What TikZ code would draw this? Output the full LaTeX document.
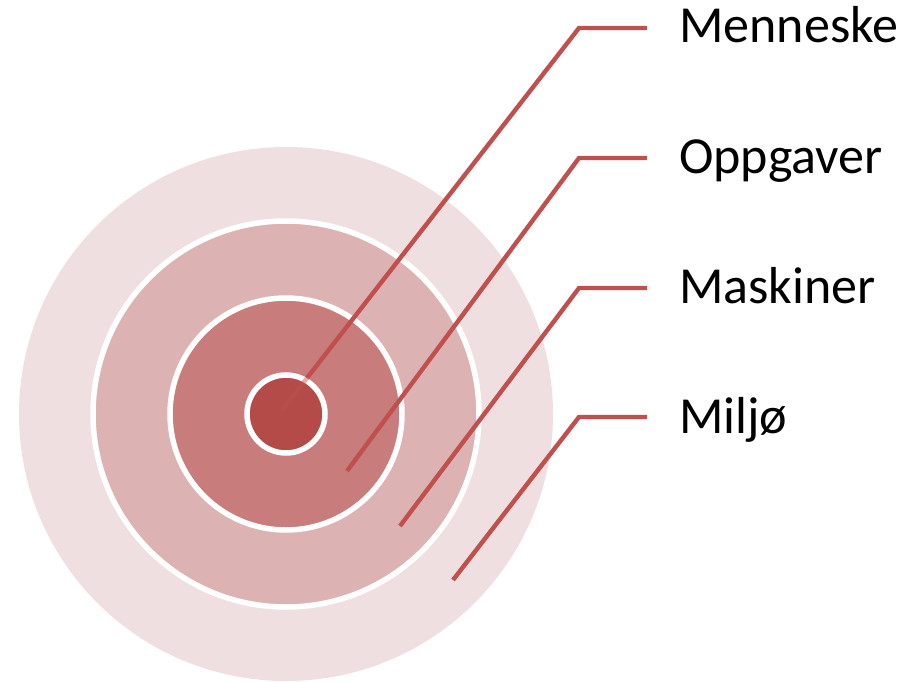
\documentclass[tikz,border=0pt]{standalone}
\usepackage{fontspec}
\setmainfont{Carlito}
\definecolor{ringA}{HTML}{F0DFE0}
\definecolor{ringB}{HTML}{DCB2B3}
\definecolor{ringC}{HTML}{C87C7B}
\definecolor{ringD}{HTML}{B54B48}
\definecolor{leader}{HTML}{C0504D}
\begin{document}
\begin{tikzpicture}[x=1pt,y=-1pt,
  ring/.style={draw=white,line width=5.5pt},
  lead/.style={draw=leader,line width=4.4pt},
  lbl/.style={anchor=base west,inner sep=0pt,font=\fontsize{52}{60}\selectfont}]
\useasboundingbox (0,0) rectangle (918,682);
\fill[ringA] (286,414) circle (267);
\filldraw[ring,fill=ringB] (286,414) circle (193);
\filldraw[ring,fill=ringC] (286,414) circle (116);
\filldraw[ring,fill=ringD] (286,414) circle (39);
% labels
\node[lbl] (l1) at (679,43) {Menneske};
\node[lbl] (l2) at (679,173) {Oppgaver};
\node[lbl] (l3) at (679,303) {Maskiner};
\node[lbl] (l4) at (679,433) {Miljø};
% leader coordinates
\coordinate (s1) at (282,410);
\coordinate (m1) at (307,378);
\coordinate (c1) at (579,28);
\coordinate (e1) at (647,28);
\coordinate (s2) at (347,471);
\coordinate (c2) at (579,158);
\coordinate (e2) at (647,158);
\coordinate (s3) at (400,526);
\coordinate (c3) at (579,288);
\coordinate (e3) at (647,288);
\coordinate (s4) at (453,580);
\coordinate (c4) at (579,417);
\coordinate (e4) at (647,417);
\draw[lead,opacity=0.45] (s1) -- (m1);
\draw[lead] (m1) -- (c1) -- (e1);
\draw[lead] (s2) -- (c2) -- (e2);
\draw[lead] (s3) -- (c3) -- (e3);
\draw[lead] (s4) -- (c4) -- (e4);
\end{tikzpicture}
\end{document}
